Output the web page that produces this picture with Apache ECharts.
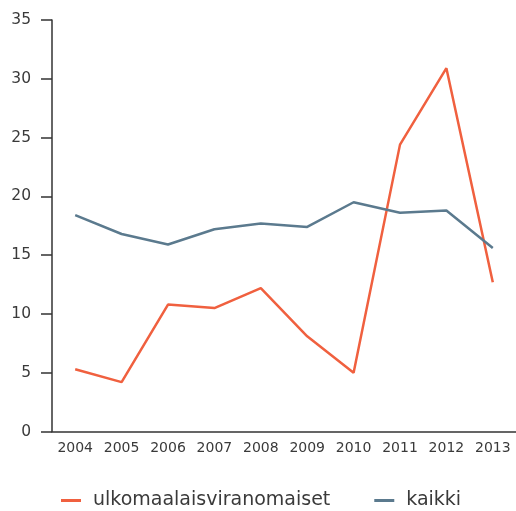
<!DOCTYPE html>
<html><head><meta charset="utf-8">
<script src="https://cdn.jsdelivr.net/npm/echarts@6/dist/echarts.min.js"></script>
<style>html,body{margin:0;padding:0;background:#fff}#c{width:516px;height:511px}</style>
</head><body><div id="c"></div>
<script>
const years = ['2004','2005','2006','2007','2008','2009','2010','2011','2012','2013'];
const ulkomaalaisviranomaiset = [5.3, 4.2, 10.8, 10.5, 12.2, 8.1, 5.0, 24.4, 30.9, 12.7];
const kaikki = [18.4, 16.8, 15.9, 17.2, 17.7, 17.4, 19.5, 18.6, 18.8, 15.6];
const yTicks = [0, 5, 10, 15, 20, 25, 30, 35];

const chart = echarts.init(document.getElementById('c'), null, {renderer: 'canvas'});
const font = '"DejaVu Sans", sans-serif';
chart.setOption({
  animation: false,
  grid: {left: 52, right: 0, top: 20, bottom: 79.5, containLabel: false},
  legend: {
    left: 61, top: 491, padding: 0,
    icon: 'rect', itemWidth: 20, itemHeight: 3, itemGap: 44,
    textStyle: {fontFamily: font, fontSize: 19, color: '#3a3a3a', padding: [0,0,0,7]},
    data: ['ulkomaalaisviranomaiset', 'kaikki']
  },
  xAxis: {
    type: 'category', data: years, boundaryGap: true,
    axisLine: {lineStyle: {color: '#333', width: 1.5}},
    axisTick: {inside: true, length: 11, interval: 0, lineStyle: {color: '#333', width: 1.5}},
    axisLabel: {color: '#3a3a3a', fontFamily: font, fontSize: 14, margin: 10, interval: 0, hideOverlap: false}
  },
  yAxis: {
    type: 'value', min: yTicks[0], max: yTicks[yTicks.length-1], interval: 5,
    splitLine: {show: false},
    axisLine: {show: true, lineStyle: {color: '#333', width: 1.5}},
    axisTick: {show: true, length: 11, lineStyle: {color: '#333', width: 1.5}},
    axisLabel: {color: '#3a3a3a', fontFamily: font, fontSize: 15.5, margin: 21}
  },
  series: [
    {name: 'ulkomaalaisviranomaiset', type: 'line', data: ulkomaalaisviranomaiset,
     symbol: 'none', lineStyle: {color: '#f0603f', width: 2.5}, itemStyle: {color: '#f0603f'}},
    {name: 'kaikki', type: 'line', data: kaikki,
     symbol: 'none', lineStyle: {color: '#5b7a8e', width: 2.5}, itemStyle: {color: '#5b7a8e'}}
  ]
});
</script></body></html>
